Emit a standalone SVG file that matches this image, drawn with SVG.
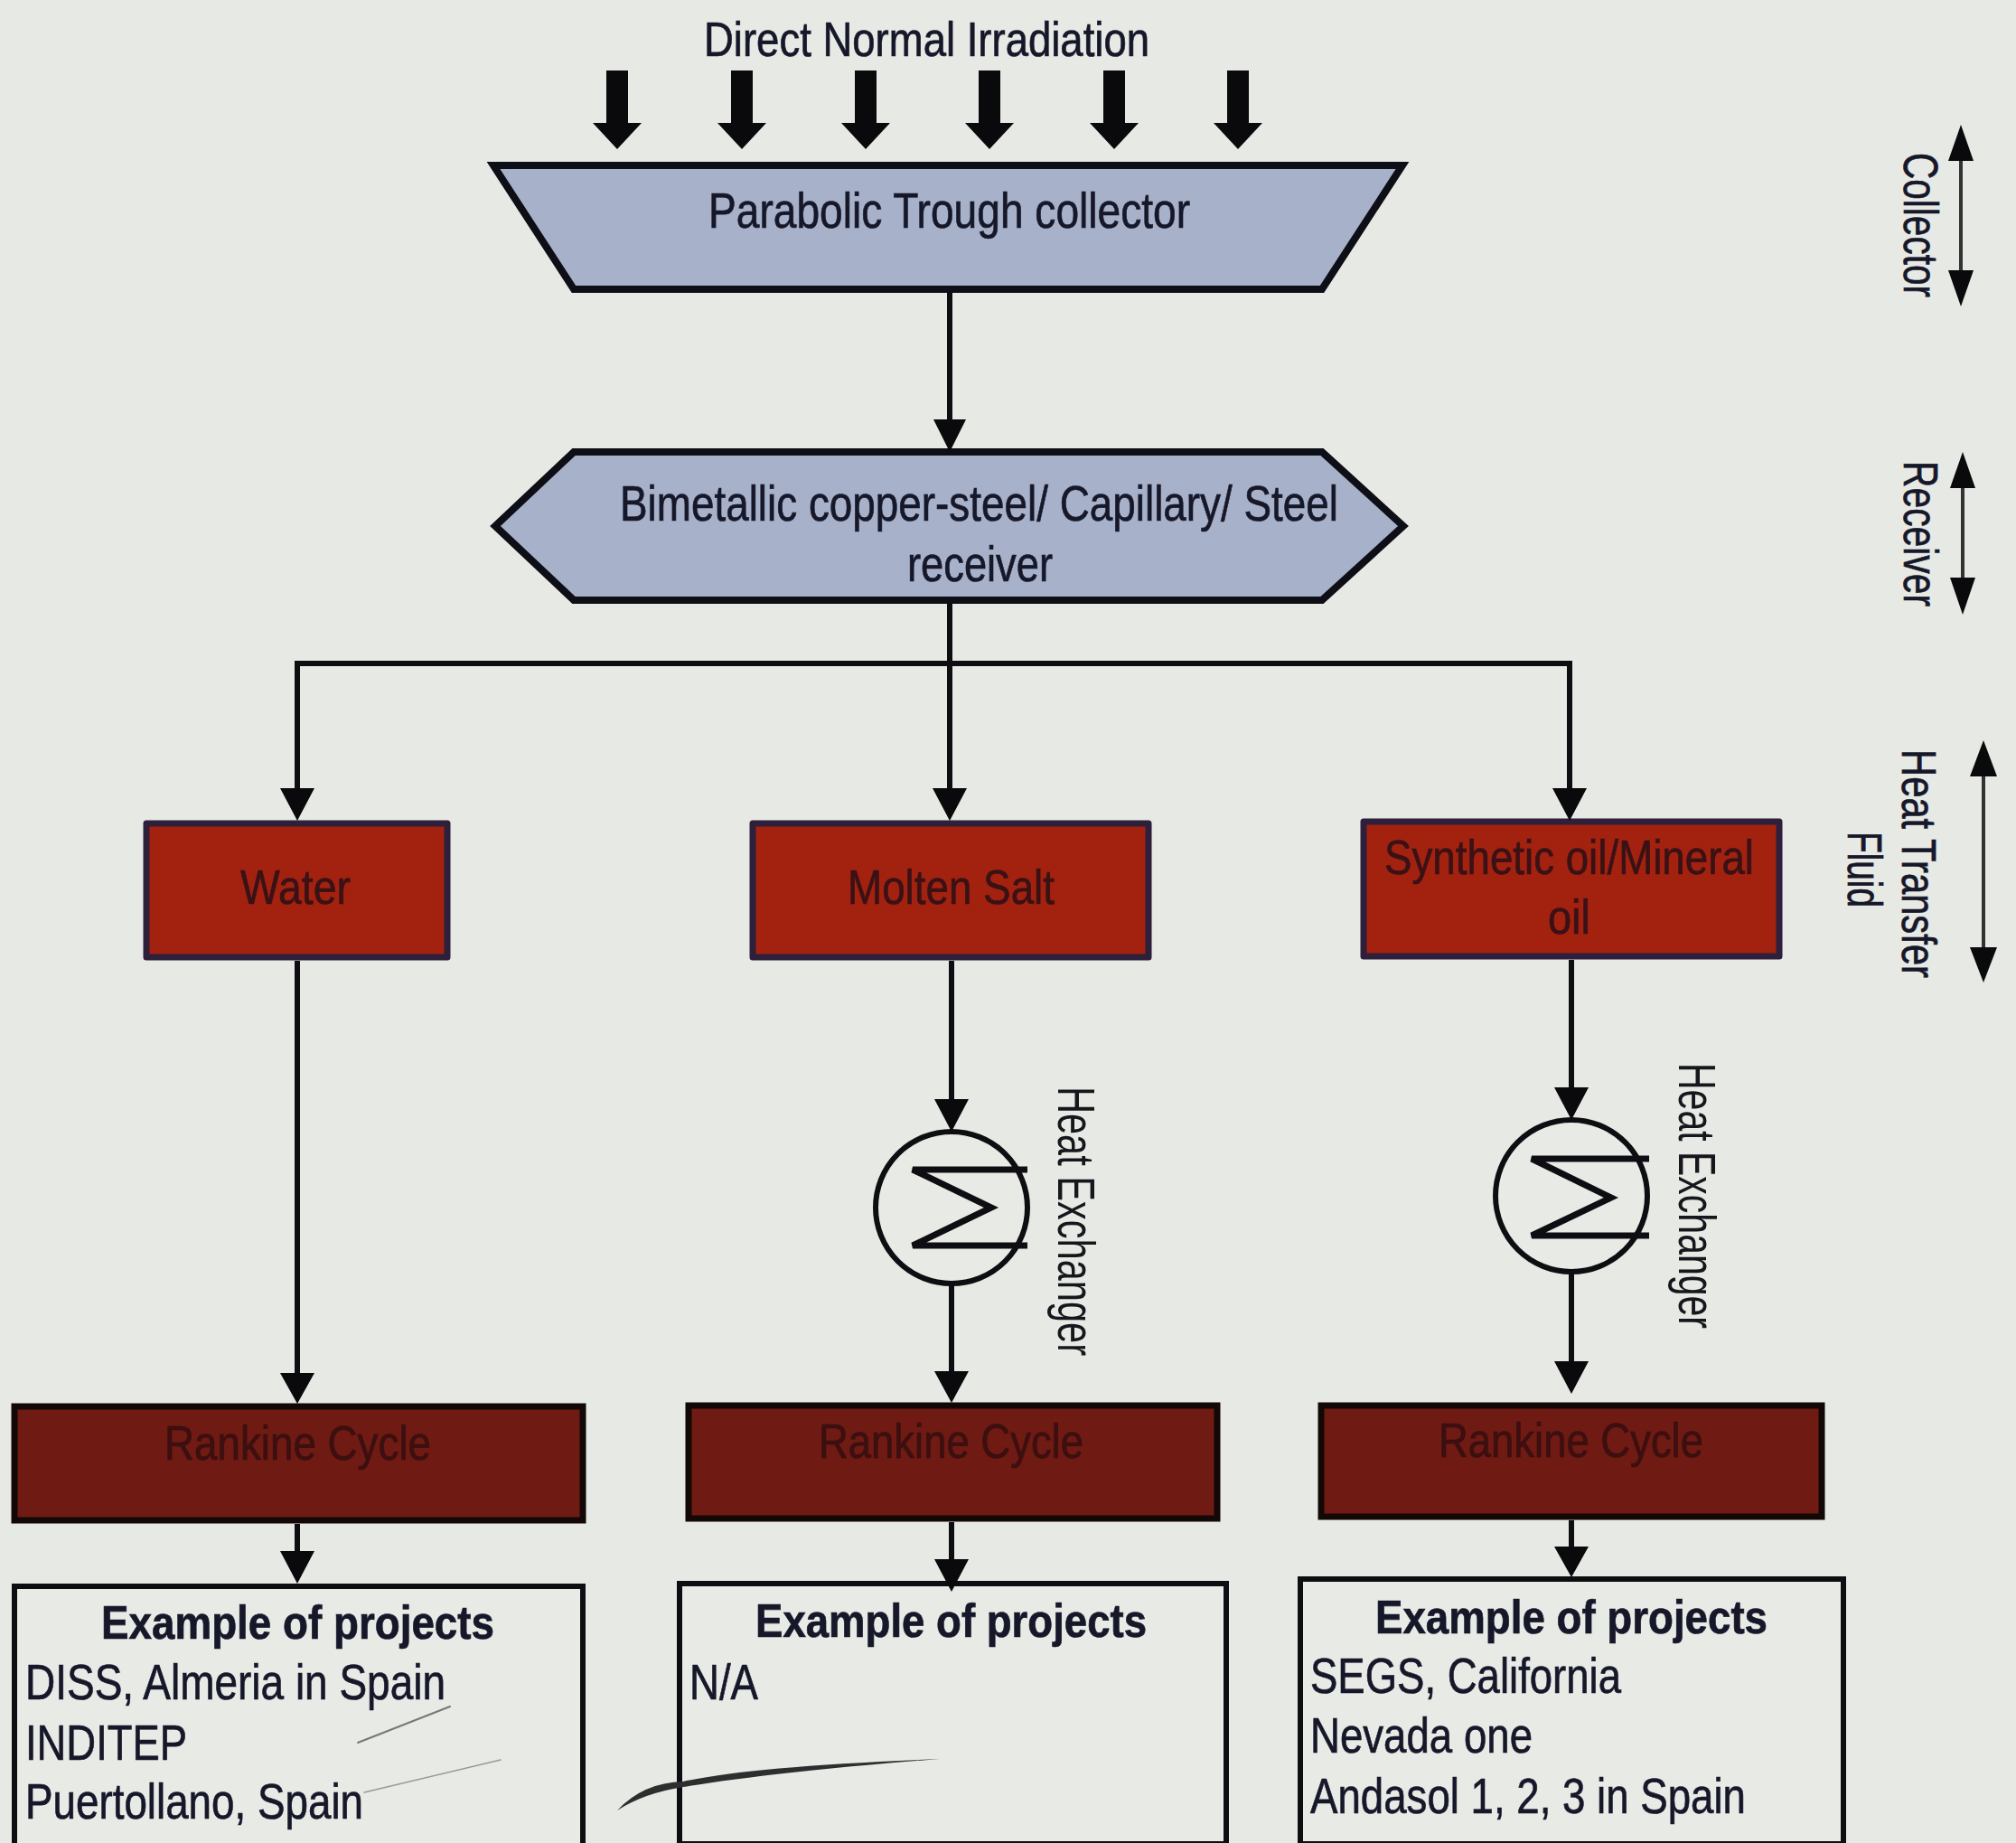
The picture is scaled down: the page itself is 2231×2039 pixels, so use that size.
<svg xmlns="http://www.w3.org/2000/svg" width="2231" height="2039" viewBox="0 0 2231 2039">
<style>
text{font-family:"Liberation Sans",Arial,sans-serif;font-size:53px;fill:#16182a;stroke:#16182a;stroke-width:.7}
.big{font-size:56px}
.hxl{font-size:58px;fill:#16161c;stroke:none}
.dk{fill:#3a1216;stroke:#3a1216}
.dk2{fill:#3c0f10;stroke:#3c0f10}
.ln{fill:none;stroke:#0e0e12;stroke-width:6}
.zz{fill:none;stroke:#0e0e12;stroke-width:7}
.thin{fill:none;stroke:#333;stroke-width:4}
.blue{fill:#a7b1c9;stroke:#0e0e16;stroke-width:8}
.red{fill:#a3220f;stroke:#2e1f3a;stroke-width:7;stroke-linejoin:round}
.ran{fill:#6f1a12;stroke:#120806;stroke-width:7}
.ex{fill:#e8eae6;stroke:#0e0e12;stroke-width:6}
.hx{fill:#e8eae6;stroke:#0e0e12;stroke-width:6}
.ar{fill:#0a0a0c}
.b{font-weight:700;font-size:52px}
</style>
<rect width="2231" height="2039" fill="#e7e9e5"/>
<g id="irradiation-label"><text x="779" y="62" textLength="493" lengthAdjust="spacingAndGlyphs">Direct Normal Irradiation</text></g>
<g id="collector"><path class="blue" d="M546 183H1552L1463 320H635Z"/><text class="big" x="784" y="252" textLength="533" lengthAdjust="spacingAndGlyphs">Parabolic Trough collector</text></g>
<g id="receiver"><path class="blue" d="M635 500H1463L1553 582L1463 664H635L548 582Z"/><text class="big" x="686" y="576" textLength="795" lengthAdjust="spacingAndGlyphs">Bimetallic copper-steel/ Capillary/ Steel</text><text class="big" x="1004" y="643" textLength="161" lengthAdjust="spacingAndGlyphs">receiver</text></g>
<g id="water"><rect class="red" x="162" y="911" width="333" height="148"/><text class="dk" x="266" y="1000" textLength="122" lengthAdjust="spacingAndGlyphs">Water</text></g>
<g id="molten-salt"><rect class="red" x="833" y="911" width="438" height="148"/><text class="dk" x="938" y="1000" textLength="229" lengthAdjust="spacingAndGlyphs">Molten Salt</text></g>
<g id="synthetic-oil"><rect class="red" x="1509" y="909" width="460" height="149"/><text class="dk" x="1532" y="967" textLength="409" lengthAdjust="spacingAndGlyphs">Synthetic oil/Mineral</text><text class="dk" x="1713" y="1033" textLength="47" lengthAdjust="spacingAndGlyphs">oil</text></g>
<g id="hx-salt"><circle class="hx" cx="1053" cy="1336" r="84"/><path class="zz" d="M1137 1294H1010L1097 1336L1010 1378H1137"/><text class="hxl" transform="translate(1171 1202) rotate(90)" textLength="298" lengthAdjust="spacingAndGlyphs">Heat Exchanger</text></g>
<g id="hx-oil"><circle class="hx" cx="1739" cy="1323" r="84"/><path class="zz" d="M1825 1282H1695L1783 1325L1695 1367H1825"/><text class="hxl" transform="translate(1858 1176) rotate(90)" textLength="294" lengthAdjust="spacingAndGlyphs">Heat Exchanger</text></g>
<g id="rankine-1"><rect class="ran" x="16" y="1556" width="629" height="126"/><text class="dk2" x="182" y="1615" textLength="295" lengthAdjust="spacingAndGlyphs">Rankine Cycle</text></g>
<g id="rankine-2"><rect class="ran" x="762" y="1555" width="585" height="125"/><text class="dk2" x="906" y="1613" textLength="293" lengthAdjust="spacingAndGlyphs">Rankine Cycle</text></g>
<g id="rankine-3"><rect class="ran" x="1462" y="1555" width="554" height="123"/><text class="dk2" x="1592" y="1612" textLength="293" lengthAdjust="spacingAndGlyphs">Rankine Cycle</text></g>
<g id="projects-1"><rect class="ex" x="16" y="1755" width="629" height="300"/><text class="b" x="112" y="1813" textLength="435" lengthAdjust="spacingAndGlyphs">Example of projects</text><text class="big" x="28" y="1880" textLength="465" lengthAdjust="spacingAndGlyphs">DISS, Almeria in Spain</text><text class="big" x="28" y="1947" textLength="179" lengthAdjust="spacingAndGlyphs">INDITEP</text><text class="big" x="28" y="2012" textLength="374" lengthAdjust="spacingAndGlyphs">Puertollano, Spain</text></g>
<g id="projects-2"><rect class="ex" x="752" y="1752" width="605" height="288"/><text class="b" x="836" y="1811" textLength="433" lengthAdjust="spacingAndGlyphs">Example of projects</text><text class="big" x="763" y="1880" textLength="76" lengthAdjust="spacingAndGlyphs">N/A</text></g>
<g id="projects-3"><rect class="ex" x="1439" y="1747" width="601" height="293"/><text class="b" x="1522" y="1807" textLength="434" lengthAdjust="spacingAndGlyphs">Example of projects</text><text class="big" x="1450" y="1873" textLength="344" lengthAdjust="spacingAndGlyphs">SEGS, California</text><text class="big" x="1450" y="1939" textLength="246" lengthAdjust="spacingAndGlyphs">Nevada one</text><text class="big" x="1450" y="2006" textLength="482" lengthAdjust="spacingAndGlyphs">Andasol 1, 2, 3 in Spain</text></g>
<g id="stage-labels">
<text transform="translate(2107 169) rotate(90)" textLength="160" lengthAdjust="spacingAndGlyphs">Collector</text>
<text transform="translate(2107 510) rotate(90)" textLength="161" lengthAdjust="spacingAndGlyphs">Receiver</text>
<text transform="translate(2105 829) rotate(90)" textLength="253" lengthAdjust="spacingAndGlyphs">Heat Transfer</text>
<text transform="translate(2045 920) rotate(90)" textLength="84" lengthAdjust="spacingAndGlyphs">Fluid</text>
</g>
<g id="connectors">
<path class="ln" d="M1051 324V470M1051 668V875M329 875V734H1737V875M329 1063V1525M1053 1063V1220M1053 1421V1525M1739 1062V1208M1739 1407V1510M329 1686V1725M1053 1684V1730M1739 1682V1715"/>
<path class="ar" d="M1033 464H1069L1051 500ZM310 872H348L329 908ZM1032 872H1070L1051 908ZM1718 872H1756L1737 908ZM310 1519H348L329 1553ZM1034 1517H1072L1053 1552ZM1720 1203H1758L1739 1239ZM1034 1216H1072L1053 1252ZM1720 1506H1758L1739 1542ZM310 1716H348L329 1752ZM1034 1725H1072L1053 1761ZM1720 1711H1758L1739 1745Z"/>
<path class="ar" d="M671 78H695V136H710L683 165L656 136H671ZM809 78H833V136H848L821 165L794 136H809ZM946 78H970V136H985L958 165L931 136H946ZM1083 78H1107V136H1122L1095 165L1068 136H1083ZM1221 78H1245V136H1260L1233 165L1206 136H1221ZM1358 78H1382V136H1397L1370 165L1343 136H1358Z"/>
<path class="thin" d="M2170 170V310M2172 535V645M2195 855V1055"/>
<path class="ar" d="M2170 138L2184 178H2156ZM2170 339L2184 299H2156ZM2172 500L2186 540H2158ZM2172 680L2186 639H2158ZM2195 819L2210 859H2180ZM2195 1087L2210 1048H2180Z"/>
</g>
<g id="pen-marks" fill="none" stroke="#777" stroke-linecap="round">
<path stroke-width="2" d="M396 1928L498 1888"/>
<path stroke-width="1.5" stroke="#999" d="M403 1983L554 1947"/>
<path fill="#2e2e2e" stroke="none" d="M683 2003Q712 1972 756 1971Q830 1954 1040 1946Q860 1960 756 1977Q712 1984 683 2003Z"/>
</g>
</svg>
